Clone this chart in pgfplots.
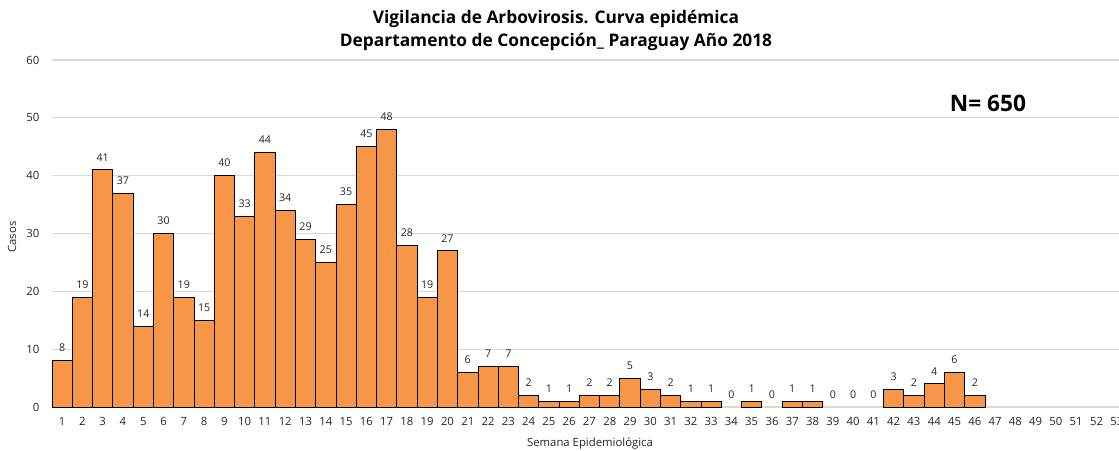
\documentclass[border=0pt]{standalone}
\usepackage{pgfplots}
\pgfplotsset{compat=1.18}
\usepackage{pgfplotstable}
\usepackage{fontspec}
\setmainfont{Open Sans}
\definecolor{barorange}{HTML}{F79646}
\definecolor{gridgray}{HTML}{D9D9D9}
\definecolor{txt}{HTML}{262626}

\pgfplotstableread{
x y
1 8
2 19
3 41
4 37
5 14
6 30
7 19
8 15
9 40
10 33
11 44
12 34
13 29
14 25
15 35
16 45
17 48
18 28
19 19
20 27
21 6
22 7
23 7
24 2
25 1
26 1
27 2
28 2
29 5
30 3
31 2
32 1
33 1
35 1
37 1
38 1
42 3
43 2
44 4
45 6
46 2
}\casos

\pgfplotstableread{
x y
34 0
36 0
39 0
40 0
41 0
}\ceros

\begin{document}
\begin{tikzpicture}
\useasboundingbox (0,0) rectangle (839.25pt,337.5pt);
\clip (0,0) rectangle (839.25pt,337.5pt);
\begin{axis}[
  at={(39pt,32.25pt)}, anchor=south west,
  scale only axis,
  width=800.25pt, height=260.25pt,
  xmin=0.5, xmax=53.11,
  ymin=0, ymax=60,
  ytick={0,10,...,60},
  xtick={1,...,53},
  major tick length=0pt,
  axis line style={draw=none},
  ymajorgrids, grid style={gridgray, line width=0.8pt},
  /pgf/number format/assume math mode=true,
  ticklabel style={font=\fontsize{8.5}{10}\selectfont, text=txt},
  xticklabel style={yshift=-4pt},
  yticklabel style={xshift=-6pt},
  ybar, bar width=1, bar shift=0pt,
  nodes near coords,
  every node near coord/.append style={font=\fontsize{8}{9}\selectfont, text=txt, anchor=center, yshift=9.5pt},
]
\addplot[fill=barorange, draw=black, line width=0.6pt] table[x=x,y=y]{\casos};
\addplot[fill=none, draw=none] table[x=x,y=y]{\ceros};
\end{axis}
\node[font=\fontsize{13}{17.25}\selectfont\bfseries, align=center, text=black] at (417pt,314.5pt)
  {Vigilancia de Arbovirosis. Curva epidémica\\Departamento de Concepción\_ Paraguay Año 2018};
\node[font=\fontsize{17}{20}\selectfont\bfseries, text=black] at (741pt,260.25pt) {N= 650};
\node[font=\fontsize{8.5}{10}\selectfont, text=txt, rotate=90] at (9pt,159.75pt) {Casos};
\node[font=\fontsize{8.5}{10}\selectfont, text=txt] at (442.5pt,4.5pt) {Semana Epidemiológica};
\end{tikzpicture}
\end{document}
